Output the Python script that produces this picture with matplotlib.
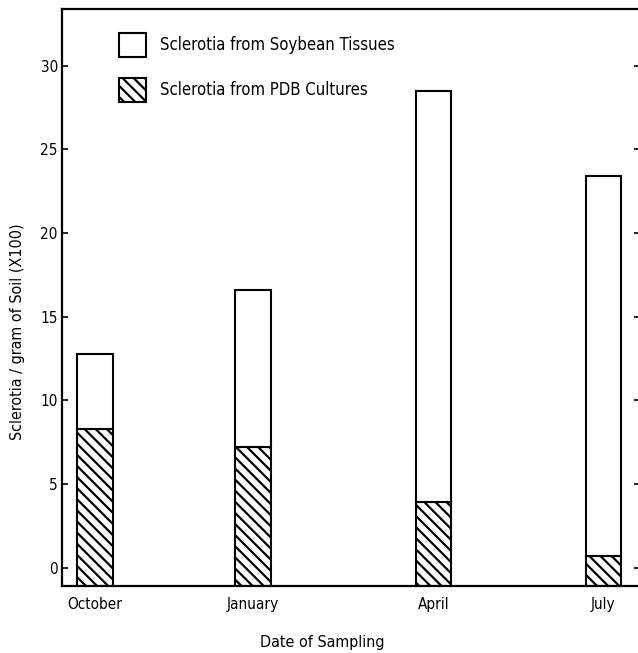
import numpy as np
import matplotlib.pyplot as plt
from matplotlib.patches import Patch

months = ["October", "January", "April", "July"]
total = [12.8, 16.6, 28.5, 23.4]      # sclerotia from soybean tissues (bar top)
pdb = [8.3, 7.2, 3.9, 0.7]            # sclerotia from PDB cultures (hatched part)
xpos = [0, 0.93, 1.99, 2.99]

plt.rcParams['font.family'] = ['DejaVu Sans']
plt.rcParams['font.stretch'] = 'condensed'
plt.rcParams['hatch.linewidth'] = 1.6

fig = plt.figure(figsize=(6.38, 6.53), dpi=100)
ax = fig.add_axes([62/638, 1 - 586/653, 578/638, (586 - 9)/653])

ymin = -1.1
w = 0.21
base = np.full(len(pdb), ymin)
ax.bar(xpos, np.array(pdb) - ymin, bottom=base, width=w, color="white",
       edgecolor="black", hatch="\\\\\\", linewidth=1.5)
ax.bar(xpos, np.array(total) - np.array(pdb), bottom=pdb, width=w, color="white",
       edgecolor="black", linewidth=1.5)

ax.set_xlim(-0.195, 3.205)
ax.set_ylim(ymin, 33.4)
ax.set_yticks([0, 5, 10, 15, 20, 25, 30])
ax.set_xticks(xpos)
ax.set_xticklabels(months)
ax.tick_params(axis="y", direction="in", length=4, width=1.2, right=True, labelsize=11, pad=3)
ax.tick_params(axis="x", length=0, labelsize=11, pad=8)
for s in ax.spines.values():
    s.set_linewidth(1.6)

ax.set_ylabel("Sclerotia / gram of Soil (X100)", fontsize=11.5)
ax.yaxis.set_label_coords(-0.064, 0.44)
ax.set_xlabel("Date of Sampling", fontsize=11.5)
ax.xaxis.set_label_coords(0.45, -0.085)

handles = [Patch(facecolor="white", edgecolor="black", linewidth=1.5),
           Patch(facecolor="white", edgecolor="black", linewidth=1.5, hatch="\\\\\\")]
ax.legend(handles, ["Sclerotia from Soybean Tissues", "Sclerotia from PDB Cultures"],
          loc="upper left", bbox_to_anchor=(0.073, 0.985), frameon=False, fontsize=12,
          handlelength=1.6, handleheight=1.9, labelspacing=1.22, handletextpad=0.85)

fig.savefig("out.png", dpi=100)
